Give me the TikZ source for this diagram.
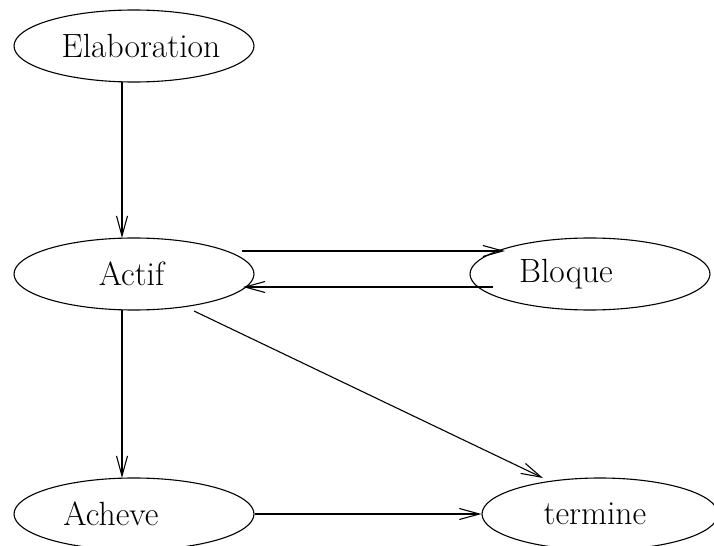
\documentclass[tikz,border=0pt]{standalone}
\usepackage{tikz}
\usetikzlibrary{shapes.geometric,arrows.meta,calc}
% label placed off the node centre by #1 (positive = right)
\newcommand\offlabel[2]{\makebox[0pt][c]{\kern#1\relax#2\kern-#1\relax}}
\begin{document}
\begin{tikzpicture}[x=0.5pt,y=-0.5pt,
  state/.style={ellipse,draw,line width=0.55pt,inner sep=0pt,
    minimum width=120pt,minimum height=36pt,
    font=\fontsize{16.8pt}{19pt}\selectfont},
  arr/.style={line width=0.55pt,-{Straight Barb[length=10pt,width=5.5pt,line width=0.55pt]}}]
\useasboundingbox (0,0) rectangle (714,546);

\node[state] (elab)   at (134,46)  {\offlabel{3.5pt}{Elaboration}};
\node[state] (actif)  at (134,274) {\offlabel{-1.2pt}{Actif}};
\node[state] (bloque) at (590,274) {\offlabel{-12pt}{Bloque}};
\node[state] (acheve) at (134,514) {\offlabel{-11.5pt}{Acheve}};
\node[state,minimum width=118pt] (termine) at (600,514) {\offlabel{-2.5pt}{termine}};

% vertical transitions
\draw[arr] ($(elab.center)+(-12,36)$) -- ($(actif.center)+(-12,-36)$);
\draw[arr] ($(actif.center)+(-12,36)$) -- ($(acheve.center)+(-12,-36)$);

% blocking and waking
\draw[arr] ($(actif.center)+(108,-23)$) -- ($(bloque.center)+(-85,-23)$);
\draw[arr] ($(bloque.center)+(-97,13)$) -- ($(actif.center)+(109,13)$);

% termination
\draw[arr] ($(actif.center)+(60,37)$) -- ($(termine.center)+(-57,-36)$);
\draw[arr] (acheve.east) -- (termine.west);
\end{tikzpicture}
\end{document}
